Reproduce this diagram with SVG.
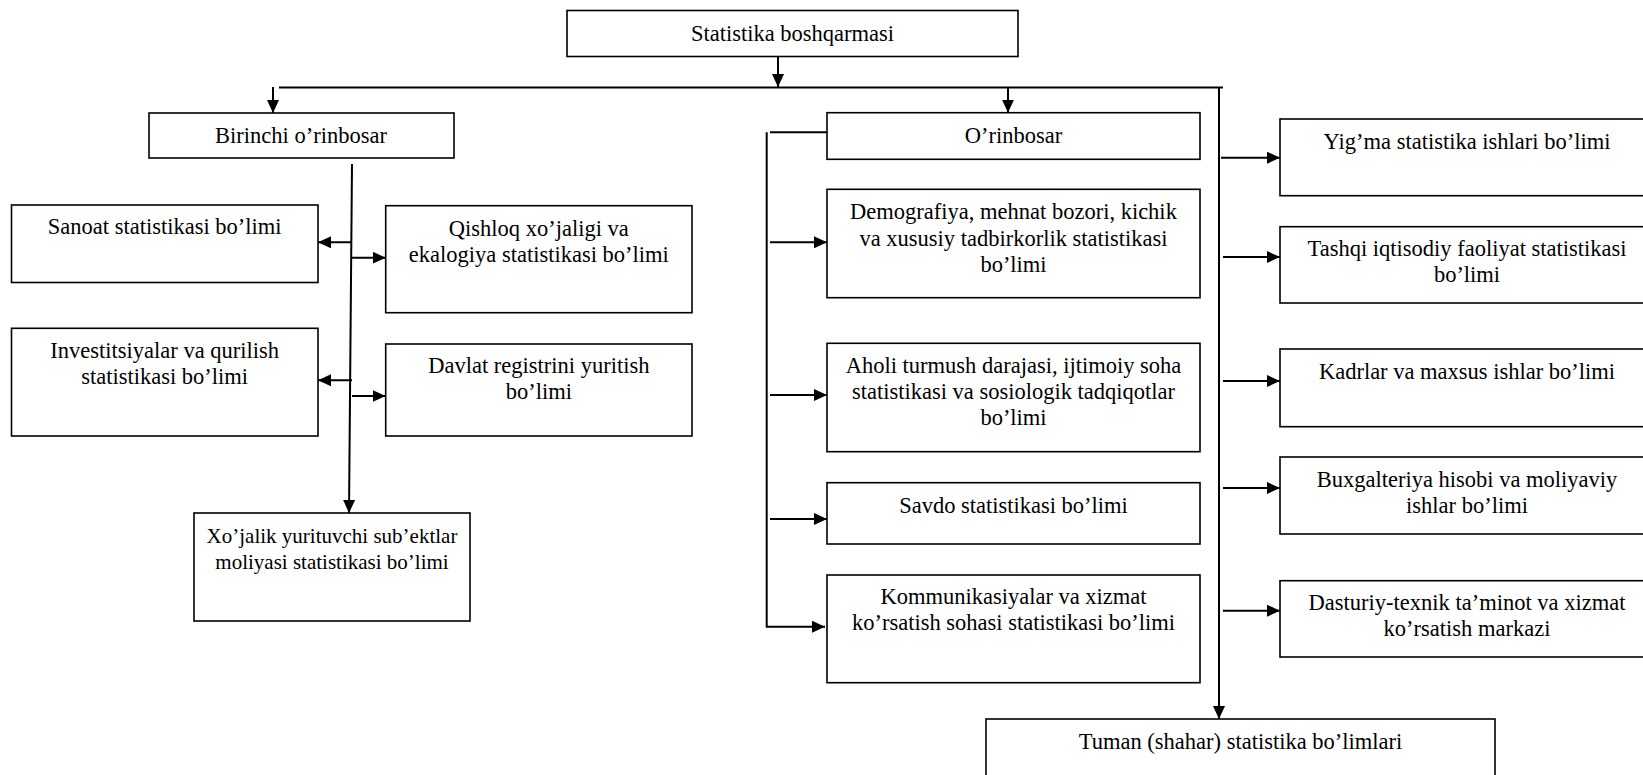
<svg xmlns="http://www.w3.org/2000/svg" width="1643" height="775" viewBox="0 0 1643 775">
<style>
.box{fill:#fff;stroke:#000;stroke-width:1.6}
.t{font-family:"Liberation Serif","Times New Roman",serif;font-size:22.5px;fill:#000;text-anchor:middle}
.s{font-size:21px}
.c{fill:none;stroke:#000;stroke-width:2}
</style>
<defs>
<marker id="ah" markerUnits="userSpaceOnUse" markerWidth="13" markerHeight="12" refX="13" refY="6" orient="auto">
<path d="M0,0 L13,6 L0,12 z" fill="#000"/>
</marker>
</defs>
<rect width="1643" height="775" fill="#fff"/>
<g id="connectors">
<path class="c" d="M778,56.6 V87" marker-end="url(#ah)"/>
<path class="c" d="M279,87.5 H1223"/>
<path class="c" d="M273,87 V113" marker-end="url(#ah)"/>
<path class="c" d="M1008,87.5 V112.7" marker-end="url(#ah)"/>
<path class="c" d="M1219,87 V719" marker-end="url(#ah)"/>
<path class="c" d="M1221,157.7 H1280" marker-end="url(#ah)"/>
<path class="c" d="M1223,257 H1280" marker-end="url(#ah)"/>
<path class="c" d="M1223,381 H1280" marker-end="url(#ah)"/>
<path class="c" d="M1223,488 H1280" marker-end="url(#ah)"/>
<path class="c" d="M1223,610.7 H1280" marker-end="url(#ah)"/>
<path class="c" d="M827,132.3 H770"/>
<path class="c" d="M766.7,132.3 V626.7 H825" marker-end="url(#ah)"/>
<path class="c" d="M770,242.3 H827" marker-end="url(#ah)"/>
<path class="c" d="M770,395 H827" marker-end="url(#ah)"/>
<path class="c" d="M770,519 H827" marker-end="url(#ah)"/>
<path class="c" d="M352,164 L349,513" marker-end="url(#ah)"/>
<path class="c" d="M352,242.3 H318" marker-end="url(#ah)"/>
<path class="c" d="M352,257.7 H385.7" marker-end="url(#ah)"/>
<path class="c" d="M352,380.3 H318" marker-end="url(#ah)"/>
<path class="c" d="M352,396 H385.7" marker-end="url(#ah)"/>
</g>
<g id="n_top"><rect class="box" x="567" y="10.5" width="451" height="46"/><text class="t" x="792.5" y="41">Statistika boshqarmasi</text></g>
<g id="n_first"><rect class="box" x="149" y="113" width="305" height="45"/><text class="t" x="301" y="143">Birinchi o’rinbosar</text></g>
<g id="n_sanoat"><rect class="box" x="11.5" y="205" width="306.5" height="77.5"/><text class="t" x="164.7" y="234">Sanoat statistikasi bo’limi</text></g>
<g id="n_qishloq"><rect class="box" x="385.7" y="205.7" width="306.3" height="107"/><text class="t" x="538.8" y="236">Qishloq xo’jaligi va</text><text class="t" x="538.8" y="262">ekalogiya statistikasi bo’limi</text></g>
<g id="n_invest"><rect class="box" x="11.5" y="328.3" width="306.5" height="107.7"/><text class="t" x="164.7" y="358">Investitsiyalar va qurilish</text><text class="t" x="164.7" y="384">statistikasi bo’limi</text></g>
<g id="n_davlat"><rect class="box" x="385.7" y="344" width="306.3" height="92"/><text class="t" x="538.8" y="373">Davlat registrini yuritish</text><text class="t" x="538.8" y="399">bo’limi</text></g>
<g id="n_xojalik"><rect class="box" x="194" y="513" width="276" height="108"/><text class="t s" x="332" y="543">Xo’jalik yurituvchi sub’ektlar</text><text class="t s" x="332" y="569">moliyasi statistikasi bo’limi</text></g>
<g id="n_orinbosar"><rect class="box" x="827" y="112.7" width="373" height="46.6"/><text class="t" x="1013.5" y="143">O’rinbosar</text></g>
<g id="n_demo"><rect class="box" x="827" y="189.3" width="373" height="108.4"/><text class="t" x="1013.5" y="219">Demografiya, mehnat bozori, kichik</text><text class="t" x="1013.5" y="245.5">va xususiy tadbirkorlik statistikasi</text><text class="t" x="1013.5" y="272">bo’limi</text></g>
<g id="n_aholi"><rect class="box" x="827" y="343.3" width="373" height="108.4"/><text class="t" x="1013.5" y="373">Aholi turmush darajasi, ijtimoiy soha</text><text class="t" x="1013.5" y="399">statistikasi va sosiologik tadqiqotlar</text><text class="t" x="1013.5" y="425">bo’limi</text></g>
<g id="n_savdo"><rect class="box" x="827" y="482.7" width="373" height="61.3"/><text class="t" x="1013.5" y="513">Savdo statistikasi bo’limi</text></g>
<g id="n_komm"><rect class="box" x="827" y="575" width="373" height="107.7"/><text class="t" x="1013.5" y="604">Kommunikasiyalar va xizmat</text><text class="t" x="1013.5" y="630">ko’rsatish sohasi statistikasi bo’limi</text></g>
<g id="n_yigma"><rect class="box" x="1280" y="119" width="374" height="76.7"/><text class="t" x="1467" y="149">Yig’ma statistika ishlari bo’limi</text></g>
<g id="n_tashqi"><rect class="box" x="1280" y="226.7" width="374" height="76.3"/><text class="t" x="1467" y="256">Tashqi iqtisodiy faoliyat statistikasi</text><text class="t" x="1467" y="282">bo’limi</text></g>
<g id="n_kadr"><rect class="box" x="1280" y="349" width="374" height="77.7"/><text class="t" x="1467" y="379">Kadrlar va maxsus ishlar bo’limi</text></g>
<g id="n_bux"><rect class="box" x="1280" y="457" width="374" height="77"/><text class="t" x="1467" y="487">Buxgalteriya hisobi va moliyaviy</text><text class="t" x="1467" y="513">ishlar bo’limi</text></g>
<g id="n_dast"><rect class="box" x="1280" y="580.7" width="374" height="76.3"/><text class="t" x="1467" y="610">Dasturiy-texnik ta’minot va xizmat</text><text class="t" x="1467" y="636">ko’rsatish markazi</text></g>
<g id="n_tuman"><rect class="box" x="986" y="719" width="509" height="80"/><text class="t" x="1240.5" y="749">Tuman (shahar) statistika bo’limlari</text></g>
</svg>
